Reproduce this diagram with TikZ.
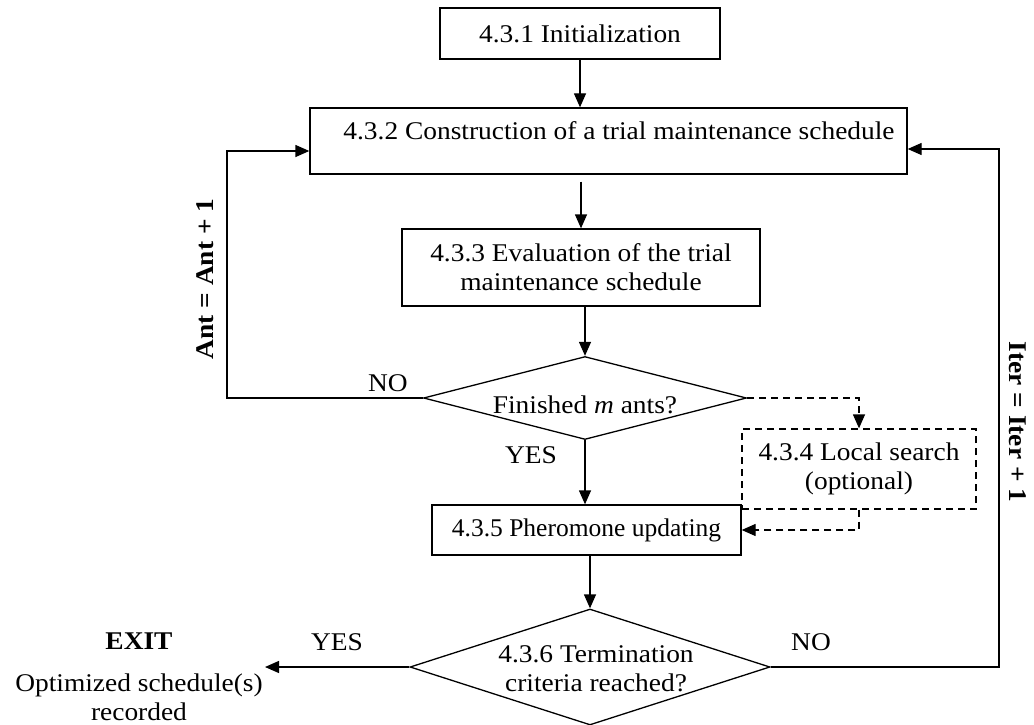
\documentclass[tikz,border=0pt]{standalone}
\usepackage{fontspec}
\setmainfont{Liberation Serif}
% slightly wider face for most of the labels
\newfontfamily\widefont[FakeStretch=1.075]{Liberation Serif}
\usetikzlibrary{shapes.geometric,arrows.meta}

\begin{document}
\begin{tikzpicture}[x=1pt,y=-1pt,
  basefont/.style={font=\fontsize{25.5}{29}\selectfont\widefont},
  plainfont/.style={font=\fontsize{25.5}{29}\selectfont\rmfamily},
  boldfont/.style={font=\fontsize{25.5}{29}\selectfont\widefont\bfseries},
  every node/.style={basefont},
  box/.style={draw, line width=1.3pt, inner sep=0pt, align=center},
  lbl/.style={inner sep=0pt, align=center},
  decision/.style={draw, diamond, line width=1.3pt, inner sep=0pt},
  flow/.style={line width=1.3pt, -{Triangle[length=14pt,width=12pt]}},
  dashflow/.style={line width=1.3pt, dash pattern=on 7pt off 5pt, -{Triangle[length=14pt,width=12pt]}},
  dashbox/.style={box, dash pattern=on 7pt off 5pt},
]
\useasboundingbox (0,0) rectangle (1034,725);

% process steps
\node[box, minimum width=280pt, minimum height=51pt] (init) at (580,33.5) {4.3.1 Initialization};
\node[box, minimum width=597pt, minimum height=66pt] (constr) at (608.5,141) {};
\node[lbl] (constrtxt) at (619,131) {4.3.2 Construction of a trial maintenance schedule};
\node[box, minimum width=358pt, minimum height=77pt] (eval) at (581,267.5) {4.3.3 Evaluation of the trial\\maintenance schedule};
\node[decision, minimum width=323pt, minimum height=83pt] (dec1) at (585,398) {};
\node[lbl] (dec1txt) at (585,405) {Finished \textit{m} ants?};
\node[dashbox, minimum width=234pt, minimum height=80pt] (ls) at (859,469) {4.3.4 Local search\\(optional)};
\node[box, plainfont, minimum width=309pt, minimum height=50pt] (pher) at (586.5,530) {4.3.5 Pheromone updating};
\node[decision, minimum width=360pt, minimum height=116pt] (dec2) at (590,667) {};
\node[lbl] (dec2txt) at (596,668.5) {4.3.6 Termination\\criteria reached?};

% loop corners and exit end
\coordinate (antleft) at (227,151);
\coordinate (iterright) at (999,149);
\coordinate (exitpt) at (265,667);

% main flow
\draw[flow] (init.south) -- (init.south |- constr.north);
\draw[flow] ([yshift=-7pt]constr.south -| eval.north) -- (eval.north);
\draw[flow] (eval.south -| dec1.north) -- (dec1.north);
\draw[flow] (dec1.south) -- (dec1.south |- pher.north);
\draw[flow] (pher.south -| dec2.north) -- (dec2.north);

% loops
\draw[flow] (dec1.west) -| (antleft) -- (antleft -| constr.west);
\draw[flow] (dec2.east) -| (iterright) -- (iterright -| constr.east);
\draw[flow] (dec2.west) -- (exitpt);

% optional local search
\draw[dashflow] (dec1.east) -| (ls.north);
\draw[dashflow] (ls.south) |- (pher.east);

% labels
\node[lbl] (no1) at (388,383) {NO};
\node[lbl] (yes1) at (531,455) {YES};
\node[lbl] (yes2) at (337,642) {YES};
\node[lbl] (no2) at (811,642) {NO};
\node[lbl, boldfont] (exit) at (139,641) {EXIT};
\node[lbl] (optim) at (139,697) {Optimized schedule(s)\\recorded};
\node[lbl, boldfont, rotate=90] (antlbl) at (205,279) {Ant = Ant + 1};
\node[lbl, boldfont, rotate=-90] (iterlbl) at (1018,422) {Iter = Iter + 1};
\end{tikzpicture}
\end{document}
